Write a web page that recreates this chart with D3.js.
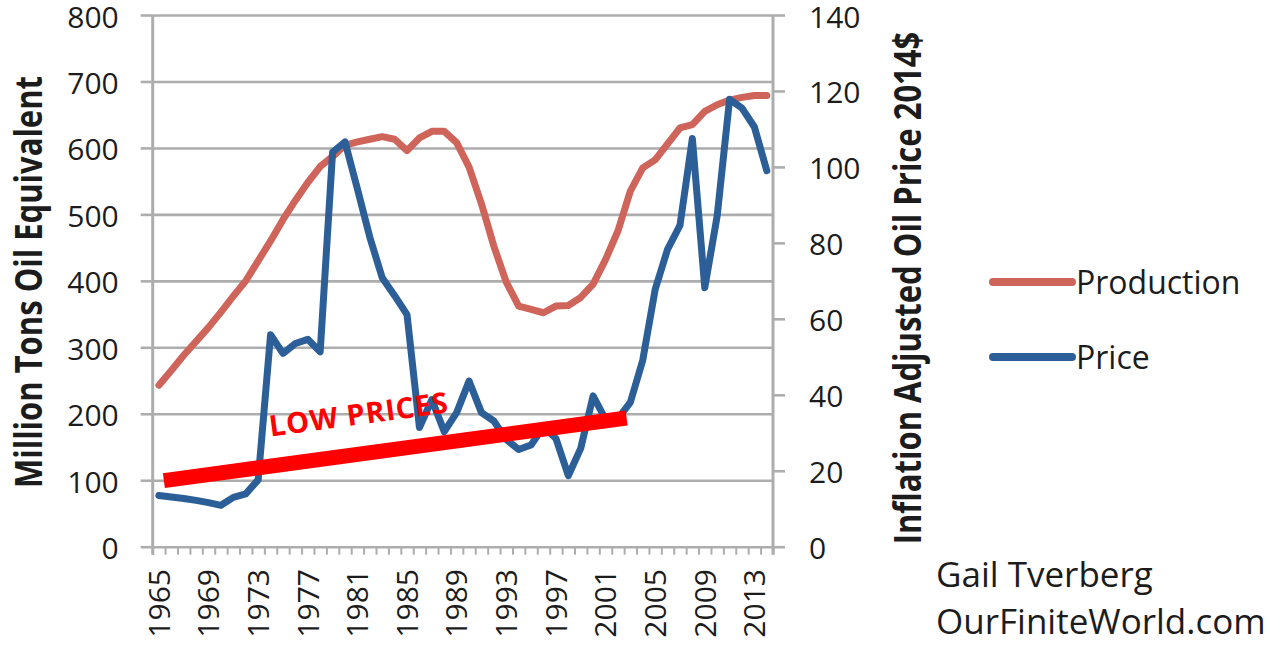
<!DOCTYPE html>
<html><head><meta charset="utf-8">
<script src="https://cdn.jsdelivr.net/npm/d3@7"></script>
<style>
body{margin:0;background:#fff;}
svg{display:block;}
text{font-family:"Open Sans",sans-serif;fill:#1c1c1c;}
</style>
</head><body>
<svg id="c" width="1284" height="648"></svg>
<script>
const years=[1965,1966,1967,1968,1969,1970,1971,1972,1973,1974,1975,1976,1977,1978,1979,1980,1981,1982,1983,1984,1985,1986,1987,1988,1989,1990,1991,1992,1993,1994,1995,1996,1997,1998,1999,2000,2001,2002,2003,2004,2005,2006,2007,2008,2009,2010,2011,2012,2013,2014];
const production=[243,265,288,309,330,353,377,400,430,460,492,521,548,572,587,604,609,613,617,613,596,615,625,625,608,571,516,452,398,362,357,352,362,363,375,395,432,475,535,570,582,606,630,635,655,665,672,676,679,679];
const price=[13.5,13.1,12.7,12.2,11.6,10.9,13.0,13.9,17.6,55.8,50.9,53.5,54.6,51.3,103.9,106.6,94.2,81.5,70.8,66.1,61.1,31.4,38.7,30.3,35.3,43.6,35.3,33.1,28.2,25.6,26.8,31.6,28.5,18.7,25.9,39.7,33.5,33.7,38.0,49.1,67.7,78.3,84.6,107.5,68.2,87.1,117.8,115.5,110.5,99.0];
const leftTicks=[0,100,200,300,400,500,600,700,800];
const rightTicks=[0,20,40,60,80,100,120,140];
const xLabelYears=[1965,1969,1973,1977,1981,1985,1989,1993,1997,2001,2005,2009,2013];
const seriesNames=["Production","Price"];
const seriesColors=["#CF645B","#2C5F98"];
const leftTitle="Million Tons Oil Equivalent";
const rightTitle="Inflation Adjusted Oil Price 2014$";
const credits=["Gail Tverberg","OurFiniteWorld.com"];
const lowPriceLine=[{year:1965.4,price:17.4},{year:2002.7,price:33.9}];
const lowPriceLabel={text:"LOW PRICES",year:1974,price:29};

const plot={left:152.7,right:773,top:15,bottom:546.7};
const svg=d3.select("#c");
const x=d3.scaleBand().domain(years).range([plot.left,plot.right]);
const xc=d=>x(d)+x.bandwidth()/2;
const xLin=d3.scaleLinear().domain([years[0],years[years.length-1]]).range([xc(years[0]),xc(years[years.length-1])]);
const xb=d3.scaleLinear().domain([0,years.length]).range([plot.left,plot.right]);
const yL=d3.scaleLinear().domain([0,800]).range([plot.bottom,plot.top]);
const yR=d3.scaleLinear().domain([0,140]).range([plot.bottom,plot.top]);
const gridColor="#ADADAD";

// gridlines
const grid=svg.append("g").attr("transform",`translate(${plot.left},0)`)
  .call(d3.axisLeft(yL).tickValues(leftTicks).tickSize(-(plot.right-plot.left)).tickFormat(""));
grid.select(".domain").remove();
grid.selectAll("line").attr("stroke",gridColor).attr("stroke-width",2.6);

// minor x ticks
const xa=svg.append("g").attr("transform",`translate(0,${plot.bottom})`)
  .call(d3.axisBottom(xb).tickValues(d3.range(0,years.length+1)).tickSize(8).tickFormat(""));
xa.select(".domain").remove();
xa.selectAll("line").attr("stroke",gridColor).attr("stroke-width",2);

// left axis
const la=svg.append("g").attr("transform",`translate(${plot.left},0)`)
  .call(d3.axisLeft(yL).tickValues(leftTicks).tickSize(12).tickSizeOuter(0).tickPadding(22));
la.select(".domain").remove();
la.selectAll("line").attr("stroke",gridColor).attr("stroke-width",2.6);
la.selectAll("text").attr("font-size",30).attr("font-family","Open Sans").attr("fill","#1c1c1c").attr("dy","0.4em");

// right axis
const ra=svg.append("g").attr("transform",`translate(${plot.right},0)`)
  .call(d3.axisRight(yR).tickValues(rightTicks).tickSize(12).tickSizeOuter(0).tickPadding(24));
ra.select(".domain").remove();
ra.selectAll("line").attr("stroke",gridColor).attr("stroke-width",2.6);
ra.selectAll("text").attr("font-size",30).attr("font-family","Open Sans").attr("fill","#1c1c1c").attr("dy","0.4em");

// axis vertical lines
[plot.left,plot.right].forEach(px=>{
  svg.append("line").attr("x1",px).attr("x2",px).attr("y1",plot.top).attr("y2",plot.bottom+8)
    .attr("stroke",gridColor).attr("stroke-width",3);
});

// x labels
svg.append("g").selectAll("text").data(xLabelYears).join("text")
  .attr("transform",d=>`translate(${xc(d)},569) rotate(-90)`)
  .attr("text-anchor","end").attr("dy","0.36em").attr("font-size",30)
  .text(d=>d);

// axis titles
svg.append("text").attr("transform","translate(42,282) rotate(-90) scale(1,1.2)")
  .attr("text-anchor","middle").attr("font-weight","bold").attr("font-size",31).text(leftTitle);
svg.append("text").attr("transform","translate(921,288) rotate(-90) scale(1,1.2)")
  .attr("text-anchor","middle").attr("font-weight","bold").attr("font-size",31).text(rightTitle);

// series lines
const lineL=d3.line().x((d,i)=>xc(years[i])).y(d=>yL(d));
const lineR=d3.line().x((d,i)=>xc(years[i])).y(d=>yR(d));
svg.append("path").datum(production).attr("d",lineL).attr("fill","none")
  .attr("stroke",seriesColors[0]).attr("stroke-width",7).attr("stroke-linejoin","round").attr("stroke-linecap","round");
svg.append("path").datum(price).attr("d",lineR).attr("fill","none")
  .attr("stroke",seriesColors[1]).attr("stroke-width",7).attr("stroke-linejoin","round").attr("stroke-linecap","round");

// low price annotation
const lp=d3.line().x(d=>xLin(d.year)).y(d=>yR(d.price));
svg.append("path").datum(lowPriceLine).attr("d",lp).attr("stroke","#FF0000").attr("stroke-width",15).attr("fill","none");
const ang=Math.atan2(yR(lowPriceLine[1].price)-yR(lowPriceLine[0].price),xLin(lowPriceLine[1].year)-xLin(lowPriceLine[0].year))*180/Math.PI;
svg.append("text").attr("transform",`translate(${xLin(lowPriceLabel.year)},${yR(lowPriceLabel.price)}) rotate(${ang})`)
  .attr("font-weight","bold").attr("font-size",29).attr("letter-spacing",0.8).style("fill","#FF0000").text(lowPriceLabel.text);

// legend
const lg=svg.append("g");
seriesNames.forEach((n,i)=>{
  const cy=282+i*75;
  lg.append("line").attr("x1",993).attr("x2",1072).attr("y1",cy).attr("y2",cy)
    .attr("stroke",seriesColors[i]).attr("stroke-width",8).attr("stroke-linecap","round");
  lg.append("text").attr("x",1076).attr("y",cy).attr("dy","0.36em").attr("font-size",32).text(n);
});

// credits
credits.forEach((c,i)=>{
  svg.append("text").attr("x",936).attr("y",587+i*47).attr("font-size",35).text(c);
});
</script>
</body></html>
